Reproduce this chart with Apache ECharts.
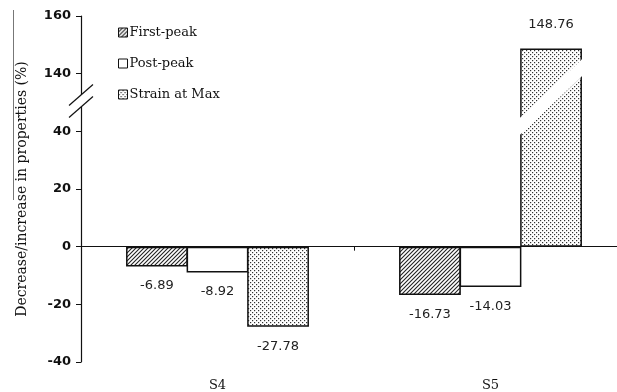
<!DOCTYPE html>
<html>
<head>
<meta charset="utf-8">
<script src="https://cdn.jsdelivr.net/npm/echarts@6/dist/echarts.min.js"></script>
<style>html,body{margin:0;padding:0;background:#fff}#main{width:617px;height:392px}</style>
</head>
<body>
<div id="main"></div>
<script>
var categories = ['S4', 'S5'];
var seriesNames = ['First-peak', 'Post-peak', 'Strain at Max'];
var firstPeak = [-6.89, -16.73];
var postPeak = [-8.92, -14.03];
var strainAtMax = [-27.78, 148.76];

// broken y axis: 40..140 is squeezed into one 20-step
var breakLow = 40, breakHigh = 140, breakStep = 20;
var shift = breakHigh - breakLow - breakStep;
function toAxis(v) { return v > breakLow ? v - shift : v; }
function fromAxis(v) { return v > breakLow ? v + shift : v; }

function makeHatch() {
    var c = document.createElement('canvas');
    c.width = 4; c.height = 4;
    var g = c.getContext('2d');
    g.fillStyle = '#fff'; g.fillRect(0, 0, 4, 4);
    g.strokeStyle = '#222'; g.lineWidth = 1.1;
    g.beginPath();
    g.moveTo(-1, 5); g.lineTo(5, -1);
    g.moveTo(-1, 1); g.lineTo(1, -1);
    g.moveTo(3, 5); g.lineTo(5, 3);
    g.stroke();
    return c;
}
function makeDots() {
    var c = document.createElement('canvas');
    c.width = 4; c.height = 4;
    var g = c.getContext('2d');
    g.fillStyle = '#fff'; g.fillRect(0, 0, 4, 4);
    g.fillStyle = '#333';
    g.fillRect(0, 0, 1.2, 1.2);
    g.fillRect(2, 2, 1.2, 1.2);
    return c;
}

var fills = [
    {image: makeHatch(), repeat: 'repeat'},
    '#fff',
    {image: makeDots(), repeat: 'repeat'}
];
var values = [firstPeak, postPeak, strainAtMax];

var labelFont = {fontFamily: 'DejaVu Sans', fontSize: 13, color: '#222'};
var serif = 'DejaVu Serif';

var series = values.map(function (arr, i) {
    return {
        name: seriesNames[i],
        type: 'bar',
        xAxisIndex: 0,
        barGap: '-2%',
        barCategoryGap: '33%',
        data: arr.map(function (v) {
            return {
                value: toAxis(v),
                label: {position: v < 0 ? 'bottom' : 'top', distance: v < 0 ? 13 : 17}
            };
        }),
        itemStyle: {color: fills[i], borderColor: '#111', borderWidth: 1.5},
        label: Object.assign({
            show: true,
            formatter: function (p) { return arr[p.dataIndex].toFixed(2); }
        }, labelFont),
        emphasis: {disabled: true},
        silent: true
    };
});

var option = {
    animation: false,
    backgroundColor: '#fff',
    grid: {left: 81, width: 546, top: 16, bottom: 30, outerBoundsMode: 'none', containLabel: false},
    legend: {
        orient: 'vertical',
        left: 113, top: 21,
        itemWidth: 9, itemHeight: 9, itemGap: 18,
        icon: 'rect',
        itemStyle: {borderColor: '#111', borderWidth: 1},
        textStyle: {fontFamily: serif, fontSize: 13, color: '#111', padding: [0, 0, 0, -3]},
        data: seriesNames
    },
    xAxis: [{
        type: 'category',
        data: categories,
        position: 'bottom',
        axisLine: {onZero: true, lineStyle: {color: '#111', width: 1.2}},
        axisTick: {show: true, length: 4, lineStyle: {color: '#111'}},
        axisLabel: {show: false}
    }, {
        type: 'category',
        data: categories,
        position: 'bottom',
        axisLine: {show: false, onZero: false},
        axisTick: {show: false},
        axisLabel: {fontFamily: serif, fontSize: 13, color: '#111', margin: 17}
    }],
    yAxis: {
        type: 'value',
        min: -40, max: 80, interval: 20,
        name: 'Decrease/increase in properties (%)',
        nameLocation: 'middle',
        nameGap: 52,
        nameTextStyle: {fontFamily: serif, fontSize: 14, color: '#111'},
        axisLine: {show: true, lineStyle: {color: '#111', width: 1.2}},
        axisTick: {show: true, length: 5, lineStyle: {color: '#111'}},
        axisLabel: Object.assign({}, labelFont, {
            margin: 10, fontWeight: 'bold', color: '#111',
            formatter: function (v) { return String(fromAxis(v)); }
        }),
        splitLine: {show: false}
    },
    series: series
};

var chart = echarts.init(document.getElementById('main'));
chart.setOption(option);

// break marks: on the y axis and across the tall bar
var yMid = chart.convertToPixel({yAxisIndex: 0}, breakLow + breakStep / 2);
var c0 = chart.convertToPixel({xAxisIndex: 0}, categories[0]);
var c1 = chart.convertToPixel({xAxisIndex: 0}, categories[1]);
var band = c1 - c0;
var xAxisPx = c0 - band / 2;
var group = band * 0.67, bw = group / 3;
var bl = c1 + group / 2 - bw - 2, br = c1 + group / 2 + 2;
var bmid = (bl + br) / 2, slope = 0.95, half = 8.5, sy = yMid - 6;
var yTop = chart.convertToPixel({yAxisIndex: 0}, 80);

var graphics = [
    {type: 'polygon', z: 100, shape: {points: [
        [bl, sy + slope * (bmid - bl) - half], [br, sy - slope * (br - bmid) - half],
        [br, sy - slope * (br - bmid) + half], [bl, sy + slope * (bmid - bl) + half]
    ]}, style: {fill: '#fff'}},
    {type: 'polygon', z: 100, shape: {points: [
        [xAxisPx - 12, yMid + 3], [xAxisPx + 12, yMid - 18], [xAxisPx + 12, yMid - 6], [xAxisPx - 12, yMid + 15]
    ]}, style: {fill: '#fff'}},
    {type: 'line', z: 101, shape: {x1: xAxisPx - 12, y1: yMid + 3, x2: xAxisPx + 12, y2: yMid - 18}, style: {stroke: '#111', lineWidth: 1.2}},
    {type: 'line', z: 101, shape: {x1: xAxisPx - 12, y1: yMid + 15, x2: xAxisPx + 12, y2: yMid - 6}, style: {stroke: '#111', lineWidth: 1.2}},
    // thin rule beside the axis title, as in the source figure
    {type: 'line', z: 101, shape: {x1: 13.5, y1: yTop - 6, x2: 13.5, y2: yTop + 184}, style: {stroke: '#777', lineWidth: 1}}
];
chart.setOption({graphic: graphics});
</script>
</body>
</html>
